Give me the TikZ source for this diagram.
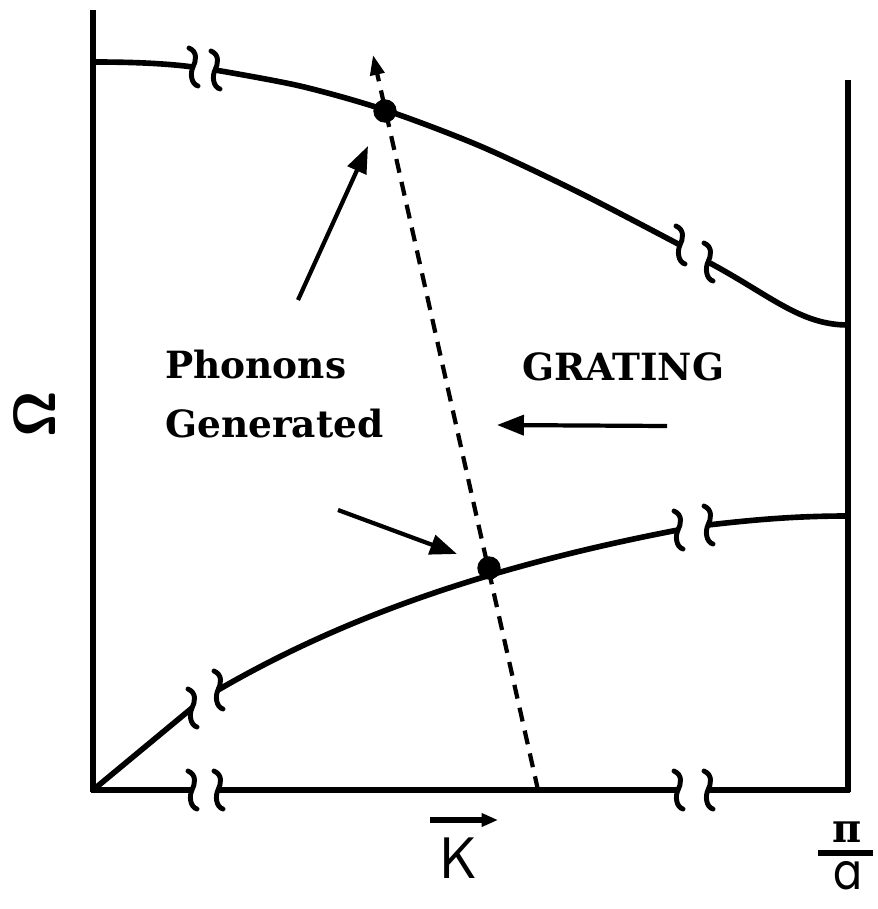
\documentclass[tikz,border=0pt]{standalone}
\usepackage{fontspec}
\setmainfont{DejaVu Serif}
\newfontfamily\popfont{Poppins}
\usetikzlibrary{arrows.meta}
\begin{document}
\begin{tikzpicture}[x=0.03cm,y=-0.03cm,
  axis/.style={line width=5.2pt},
  curve/.style={line width=4.8pt},
  brkmark/.style={line width=4.2pt, line cap=round},
  ptr/.style={line width=3.6pt,-{Triangle[length=23pt,width=17pt]}},
  lbl/.style={font=\fontsize{32}{38}\selectfont\bfseries, inner sep=0pt, anchor=base west},
  dotnode/.style={circle,fill,inner sep=0pt,minimum size=0.7cm},
  brk/.pic={\draw[brkmark] (-4,-19) .. controls (5,-15) and (3,-6) .. (0,0) .. controls (-3,6) and (-2,17) .. (5,19);}
]
\useasboundingbox (0,0) rectangle (877,909);
% axes
\draw[axis] (93,10) -- (93,792);
\draw[axis] (848,80) -- (848,792);
\draw[axis] (91,790) -- (192,790);
\draw[axis] (218,790) -- (678,790);
\draw[axis] (708,790) -- (850,790);
\pic at (192,790) {brk};
\pic at (218,790) {brk};
\pic at (678,790) {brk};
\pic at (708,790) {brk};
% upper curve
\draw[curve] (93,62) .. controls (140,62) and (170,64) .. (193,67);
\draw[curve] plot[smooth] coordinates {(215,70) (300,86) (385,110) (480,146) (580,193) (680,245)};
\draw[curve] (708,262) .. controls (770,295) and (800,325) .. (848,325);
\pic at (193,67) {brk};
\pic at (215,70) {brk};
\pic at (680,245) {brk};
\pic at (708,262) {brk};
% lower curve
\draw[curve] (93,790) -- (192,708);
\draw[curve] (218,690) .. controls (330,625) and (470,570) .. (678,530);
\draw[curve] (708,525) .. controls (760,519) and (800,516) .. (848,516);
\pic at (192,708) {brk};
\pic at (218,690) {brk};
\pic at (678,530) {brk};
\pic at (708,525) {brk};
% dots
\node[dotnode] (dotU) at (385,111) {};
\node[dotnode] (dotL) at (489,568) {};
% dashed grating line
\coordinate (dashB) at (538,790);
\coordinate (dashT) at (373,55);
\draw[line width=3.6pt, dash pattern=on 12pt off 8pt, -{Triangle[length=17pt,width=12pt]}] (dashB) -- (dashT);
% pointer arrows
\coordinate (a1s) at (298,300); \coordinate (a1e) at (368,146);
\coordinate (a2s) at (338,510); \coordinate (a2e) at (457,554);
\coordinate (a3s) at (667,426); \coordinate (a3e) at (497,425);
\draw[ptr] (a1s) -- (a1e);
\draw[ptr] (a2s) -- (a2e);
\draw[ptr] (a3s) -- (a3e);
% labels
\node[lbl] (ph) at (165,378) {Phonons};
\node[lbl] (gen) at (165,437) {Generated};
\node[lbl] (gr) at (522,380) {GRATING};
\node[font=\fontsize{50}{60}\selectfont\sffamily\bfseries, rotate=90, inner sep=0pt] (om) at (35,414) {Ω};
\node[font=\fontsize{50}{60}\selectfont\sffamily, inner sep=0pt, anchor=base] (K) at (459,878) {K};
\coordinate (kA) at (430,820); \coordinate (kB) at (498,820);
\draw[line width=4.5pt,-{Triangle[length=14pt,width=11pt]}] (kA) -- (kB);
\node[font=\fontsize{34}{40}\selectfont\bfseries, inner sep=0pt] (pi) at (847,832) {π};
\coordinate (fbA) at (818,853); \coordinate (fbB) at (873,853);
\draw[line width=4.5pt] (fbA) -- (fbB);
\node[font=\fontsize{43}{50}\selectfont\popfont, inner sep=0pt, anchor=base] (den) at (848,889) {\scalebox{0.85}[1]{a}};
\end{tikzpicture}
\end{document}
